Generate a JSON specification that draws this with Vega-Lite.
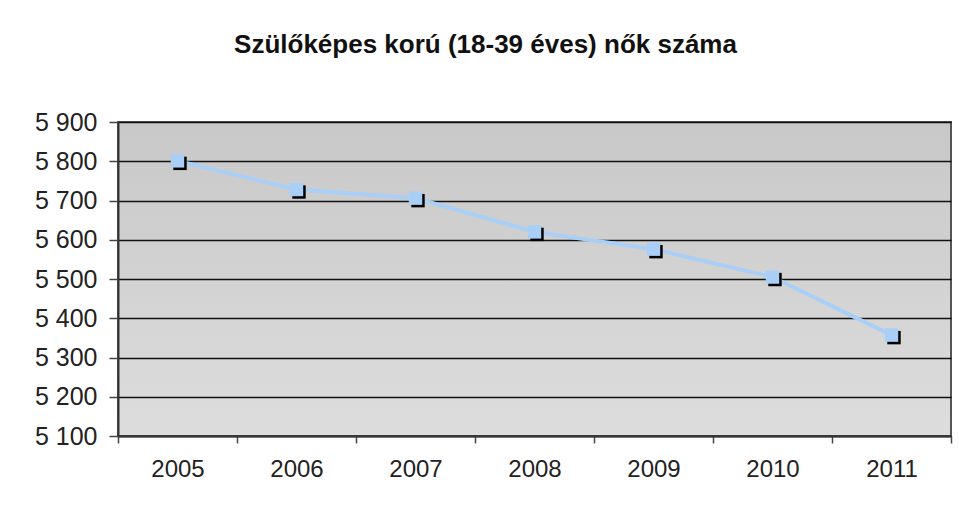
{
  "$schema": "https://vega.github.io/schema/vega-lite/v6.json",
  "width": 833,
  "height": 314,
  "autosize": {"type": "none"},
  "padding": {"left": 118, "top": 122, "right": 8, "bottom": 76},
  "background": "white",
  "config": {
    "locale": {"number": {"decimal": ",", "thousands": " ", "grouping": [3], "currency": ["", " Ft"]}},
    "font": "Liberation Sans",
    "view": {
      "stroke": "#555555",
      "strokeWidth": 2,
      "fill": {"gradient": "linear", "x1": 0, "y1": 0, "x2": 0, "y2": 1, "stops": [{"offset": 0, "color": "#c8c8c8"}, {"offset": 1, "color": "#dddddd"}]}
    }
  },
  "title": {
    "text": "Szülőképes korú (18-39 éves) nők száma",
    "font": "Liberation Sans",
    "fontSize": 26,
    "fontWeight": "bold",
    "color": "#111111",
    "anchor": "middle",
    "offset": 52,
    "dx": -49
  },
  "data": {
    "values": [
      {"ev": "2005", "ertek": 5801},
      {"ev": "2006", "ertek": 5728},
      {"ev": "2007", "ertek": 5706},
      {"ev": "2008", "ertek": 5620},
      {"ev": "2009", "ertek": 5576},
      {"ev": "2010", "ertek": 5505},
      {"ev": "2011", "ertek": 5357}
    ]
  },
  "encoding": {
    "x": {
      "field": "ev",
      "type": "ordinal",
      "scale": {"type": "band", "paddingInner": 0, "paddingOuter": 0},
      "axis": {
        "title": null,
        "labelAngle": 0,
        "labelFontSize": 24,
        "labelColor": "#222222",
        "labelPadding": 14,
        "tickBand": "extent",
        "tickSize": 7,
        "tickColor": "#444444",
        "tickWidth": 1.5,
        "domainColor": "#333333",
        "domainWidth": 2,
        "grid": false
      }
    },
    "y": {
      "field": "ertek",
      "type": "quantitative",
      "scale": {"domain": [5100, 5900], "nice": false, "zero": false},
      "axis": {
        "title": null,
        "values": [5100, 5200, 5300, 5400, 5500, 5600, 5700, 5800, 5900],
        "format": ",d",
        "labelFontSize": 25,
        "labelColor": "#222222",
        "labelPadding": 12,
        "tickSize": 9,
        "tickColor": "#444444",
        "tickWidth": 1.5,
        "domainColor": "#333333",
        "domainWidth": 2,
        "grid": true,
        "gridColor": "#111111",
        "gridWidth": 1.5
      }
    }
  },
  "layer": [
    {"mark": {"type": "line", "color": "#a9cff7", "strokeWidth": 4}},
    {"mark": {"type": "point", "shape": "square", "filled": true, "size": 180, "color": "#000000", "opacity": 1, "xOffset": 2.5, "yOffset": 2.5}},
    {"mark": {"type": "point", "shape": "square", "filled": true, "size": 180, "color": "#a9cff7", "opacity": 1}}
  ]
}
